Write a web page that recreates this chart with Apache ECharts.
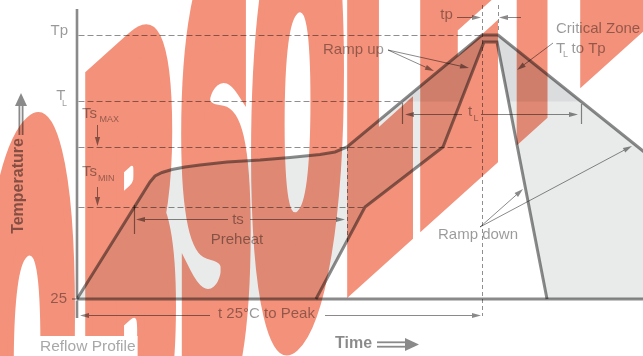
<!DOCTYPE html>
<html>
<head>
<meta charset="utf-8">
<style>
  html, body { margin: 0; padding: 0; background: #fff; }
  #chart { width: 643px; height: 356px; }
</style>
<script src="https://cdn.jsdelivr.net/npm/echarts@6/dist/echarts.min.js"></script>
</head>
<body>
<div id="chart"></div>
<script>
// time (s) / temperature values
const upperTime = [0, 73, 78, 85, 95, 108, 123, 150, 183, 213, 243, 258, 270, 405, 421, 751];
const upperTemp = [24, 141, 147, 150.5, 153.5, 156, 158, 161, 163, 165.5, 168.5, 171, 176, 288, 288, 24];
const lowerTime = [239, 288, 366, 407, 420, 470];
const lowerTemp = [24, 116, 176, 281, 281, 24];

// reference levels: Tp, TL, Ts max, Ts min (dashed lines end at the given time)
const levelTemp = [288, 221.5, 176, 116];
const levelEnd = [405, 324, 395, 286];
const baseTemp = 24;
const timeEnd = 566;
const axisSpan = [5, 314];

// annotation arrows [t0, T0, t1, T1], head at the second point
const arrowLines = [
  [151, 104, 59, 104], [173, 104, 268, 104],
  [385, 209, 328, 209], [404, 209, 501, 209],
  [380, 306, 404, 306], [444, 306, 422, 306],
  [133, 8, 3, 8], [248, 8, 404, 8],
  [476, 280, 440, 253],
  [311, 273, 357, 252], [311, 273, 392, 255],
  [403, 96, 446, 134], [403, 96, 555, 177],
  [20, 198, 20, 177], [20, 136, 20, 117]
];
const tickLines = [[57, 118, 57, 89], [325, 220, 325, 199], [504, 219, 504, 199], [-5, 24, 0, 24]];
const dashVertical = [[270, 176, 270, 80], [405, 318, 405, 7], [421, 318, 421, 290]];

const labelText = ['Tp', 'T', 'L', 'Ts', 'MAX', 'Ts', 'MIN', '25', 'ts', 'Preheat', 't', 'L', 'tp',
  'Critical Zone', 'T', 'L', 'to Tp', 'Ramp up', 'Ramp down', 't 25°C to Peak'];
const labelPos = [[-9, 292], [-11.5, 227], [-15, 219], [5, 209.5], [22.5, 203.5], [5, 151], [21, 144],
  [-10, 24], [161, 103], [160, 83.5], [393, 211.5], [396.5, 204], [369.5, 308], [479, 294], [479, 274],
  [486, 268], [494.5, 274.5], [246, 273], [361, 88], [141, 9]];
const labelAlign = ['right', 'right', 'left', 'left', 'left', 'left', 'left', 'right', 'center', 'center',
  'center', 'left', 'center', 'left', 'left', 'left', 'left', 'left', 'left', 'left'];
const labelSmall = [0, 0, 1, 0, 1, 0, 1, 0, 0, 0, 0, 1, 0, 0, 0, 1, 0, 0, 0, 0];

// stamp letters: left edge and width on the page
const markLetters = ['O', 'B', 'S', 'O', 'L', 'E', 'T', 'E'];
const markLeft = [-22, 85, 181, 250, 347, 420, 492, 580];
const markWidth = [97, 92, 70, 94, 66, 78, 80, 78];

// translucent darks so the marks tint the stamp like ink over it
const LINE = 'rgba(6,6,6,0.47)';
const THIN = 'rgba(0,0,0,0.46)';
const DASH = 'rgba(0,0,0,0.44)';
const TEXT = 'rgba(0,0,0,0.40)';
const BOLD = 'rgba(0,0,0,0.46)';
const BAND = 'rgba(35,55,55,0.10)';
const ZONE = 'rgba(8,22,35,0.15)';
const SALMON = '#f4917a';

function clipPoly(pts, level, above) {
  const out = [];
  for (let i = 0; i < pts.length; i++) {
    const a = pts[i], b = pts[(i + 1) % pts.length];
    const ina = above ? a[1] >= level : a[1] <= level;
    const inb = above ? b[1] >= level : b[1] <= level;
    if (ina) out.push(a);
    if (ina !== inb) {
      const r = (level - a[1]) / (b[1] - a[1]);
      out.push([a[0] + r * (b[0] - a[0]), level]);
    }
  }
  return out;
}

function headPts(p0, p1, len, hw) {
  const dx = p1[0] - p0[0], dy = p1[1] - p0[1];
  const L = Math.hypot(dx, dy);
  const ux = dx / L, uy = dy / L;
  const bx = p1[0] - ux * len, by = p1[1] - uy * len;
  return [[p1[0], p1[1]], [bx - uy * hw, by + ux * hw], [bx + uy * hw, by - ux * hw]];
}

function crisp(v) { return Math.round(v - 0.5) + 0.5; }

function textEl(p, s, fill, font, align, extra) {
  return {
    type: 'text', x: p[0], y: p[1],
    style: Object.assign({
      text: s, fill: fill, font: font,
      textAlign: align, align: align, textVerticalAlign: 'middle', verticalAlign: 'middle'
    }, extra || {})
  };
}

function renderDiagram(params, api) {
  const kids = [];
  const c = p => api.coord(p);
  const line = (pts, w, color, dash) => ({
    type: 'polyline',
    shape: { points: pts },
    style: { stroke: color, lineWidth: w, fill: null, lineDash: dash || null }
  });
  const poly = (pts, fill) => ({
    type: 'polygon',
    shape: { points: pts },
    style: { fill: fill, stroke: null }
  });

  // grey band between the two profiles
  const upper = upperTime.map((t, i) => [t, upperTemp[i]]);
  const lower = lowerTime.map((t, i) => [t, lowerTemp[i]]);
  const band = upper.concat(lower.slice().reverse());
  kids.push(poly(clipPoly(band, levelTemp[1], false).map(c), BAND));
  kids.push(poly(clipPoly(band, levelTemp[1], true).map(c), ZONE));

  // dashed levels
  levelTemp.forEach((T, i) => {
    const a = c([0, T]), b = c([levelEnd[i], T]);
    const y = crisp(a[1]);
    kids.push(line([[a[0] + 1.5, y], [b[0], y]], 1, DASH, [6, 3]));
  });
  dashVertical.forEach(d => {
    const a = c([d[0], d[1]]), b = c([d[2], d[3]]);
    const x = crisp(a[0]);
    kids.push(line([[x, a[1]], [x, b[1]]], 1, DASH, [4, 3]));
  });

  // annotation arrows and ticks
  arrowLines.forEach(d => {
    const a = c([d[0], d[1]]), b = c([d[2], d[3]]);
    if (a[1] === b[1]) { a[1] = b[1] = crisp(a[1]); }
    if (a[0] === b[0]) { a[0] = b[0] = crisp(a[0]); }
    const h = headPts(a, b, 9, 2.6);
    const base = [(h[1][0] + h[2][0]) / 2, (h[1][1] + h[2][1]) / 2];
    kids.push(line([a, base], 1, THIN));
    kids.push(poly(h, THIN));
  });
  tickLines.forEach(d => {
    const a = c([d[0], d[1]]), b = c([d[2], d[3]]);
    if (a[0] === b[0]) { a[0] = b[0] = crisp(a[0]); }
    kids.push(line([a, b], 1.2, THIN));
  });

  // axis, baseline and the two profiles
  kids.push(line([c([0, axisSpan[1]]), c([0, baseTemp + 1.5])], 2.6, LINE));
  kids.push(line([c([0, baseTemp - 1.5]), c([0, axisSpan[0]])], 2.6, LINE));
  kids.push(line([c([0, baseTemp]), c([timeEnd, baseTemp])], 3, LINE));
  kids.push(line(upper.map(c), 3, LINE));
  kids.push(line(lower.map(c), 3, LINE));

  // Temperature and Time double arrows
  const ta = c([-56, 188]), tt = c([-56, 230]);
  kids.push(line([[ta[0] - 1.6, ta[1]], [ta[0] - 1.6, tt[1] + 13]], 1.8, LINE));
  kids.push(line([[ta[0] + 1.6, ta[1]], [ta[0] + 1.6, tt[1] + 13]], 1.8, LINE));
  kids.push(poly([[tt[0], tt[1]], [tt[0] - 6, tt[1] + 13], [tt[0] + 6, tt[1] + 13]], LINE));
  const ma = c([300, -21.5]), mt = c([342, -21.5]);
  kids.push(line([[ma[0], ma[1] - 2.2], [mt[0] - 14, ma[1] - 2.2]], 1.8, LINE));
  kids.push(line([[ma[0], ma[1] + 2.2], [mt[0] - 14, ma[1] + 2.2]], 1.8, LINE));
  kids.push(poly([[mt[0], mt[1]], [mt[0] - 14, mt[1] - 6.5], [mt[0] - 14, mt[1] + 6.5]], LINE));

  // labels
  labelText.forEach((s, i) => {
    const font = (labelSmall[i] ? '9px' : '15px') + ' "Liberation Sans", Arial, sans-serif';
    kids.push(textEl(c(labelPos[i]), s, TEXT, font, labelAlign[i]));
  });
  const tp = textEl(c([-58.5, 137]), 'Temperature', BOLD, 'bold 16px "Liberation Sans", Arial, sans-serif', 'center');
  tp.rotation = Math.PI / 2;
  kids.push(tp);
  kids.push(textEl(c([258, -21]), 'Time', BOLD, 'bold 16px "Liberation Sans", Arial, sans-serif', 'left'));

  return { type: 'group', children: kids };
}

function renderCaption(params, api) {
  return textEl(api.coord([-39, -24]), 'Reflow Profile', '#a8a8a8',
    '15.5px "Liberation Sans", Arial, sans-serif', 'left',
    { backgroundColor: '#fff', padding: [3, 2, 3, 2] });
}

// big skewed OBSOLETE stamp under the drawing
function watermark() {
  const lw = 12;
  const font = 'bold 100px "DejaVu Sans", sans-serif';
  const ctx = document.createElement('canvas').getContext('2d');
  ctx.font = font;
  const capH = ctx.measureText('E').actualBoundingBoxAscent;
  ctx.textBaseline = 'middle';
  const mm = ctx.measureText('E');
  const yOff = (mm.actualBoundingBoxAscent - mm.actualBoundingBoxDescent) / 2;
  ctx.textBaseline = 'alphabetic';

  const sy = 462 / (capH + lw);
  const k = -0.9;
  // frame M = [[1, 0], [k, sy]] split into rotation * scale * rotation
  const m00 = 1, m01 = 0, m10 = k, m11 = sy;
  const E = (m00 + m11) / 2, F = (m00 - m11) / 2, G = (m10 + m01) / 2, H = (m10 - m01) / 2;
  const Q = Math.hypot(E, H), R = Math.hypot(F, G);
  const a1 = Math.atan2(G, F), a2 = Math.atan2(H, E);
  const theta = (a2 - a1) / 2, phi = (a2 + a1) / 2;

  const letters = markLetters.map((ch, i) => {
    const m = ctx.measureText(ch);
    const b = -m.actualBoundingBoxLeft;
    const w = m.actualBoundingBoxLeft + m.actualBoundingBoxRight;
    const lx = markWidth[i] / (w + lw);
    return {
      type: 'text', x: markLeft[i] - (b - lw / 2) * lx, y: yOff, scaleX: lx,
      style: {
        text: ch, font: font, fill: SALMON, stroke: SALMON, lineWidth: lw,
        textAlign: 'left', align: 'left', textVerticalAlign: 'middle', verticalAlign: 'middle'
      }
    };
  });

  return {
    type: 'group', x: 0, y: 379.5, rotation: -phi, scaleX: Q + R, scaleY: Q - R, z: 0,
    children: [{ type: 'group', rotation: -theta, children: letters }]
  };
}

const chart = echarts.init(document.getElementById('chart'), null, { renderer: 'canvas', devicePixelRatio: 1 });
chart.setOption({
  animation: false,
  backgroundColor: '#fff',
  grid: { left: 0, right: 0, top: 0, bottom: 0 },
  xAxis: { type: 'value', min: -77, max: 566, show: false },
  yAxis: { type: 'value', min: -33, max: 323, show: false },
  graphic: [watermark()],
  series: [{
    type: 'custom',
    coordinateSystem: 'cartesian2d',
    data: [[0, 0]],
    renderItem: renderDiagram,
    silent: true,
    z: 5
  }, {
    type: 'custom',
    coordinateSystem: 'cartesian2d',
    data: [[0, 0]],
    renderItem: renderCaption,
    silent: true,
    z: 10
  }]
});
</script>
</body>
</html>
